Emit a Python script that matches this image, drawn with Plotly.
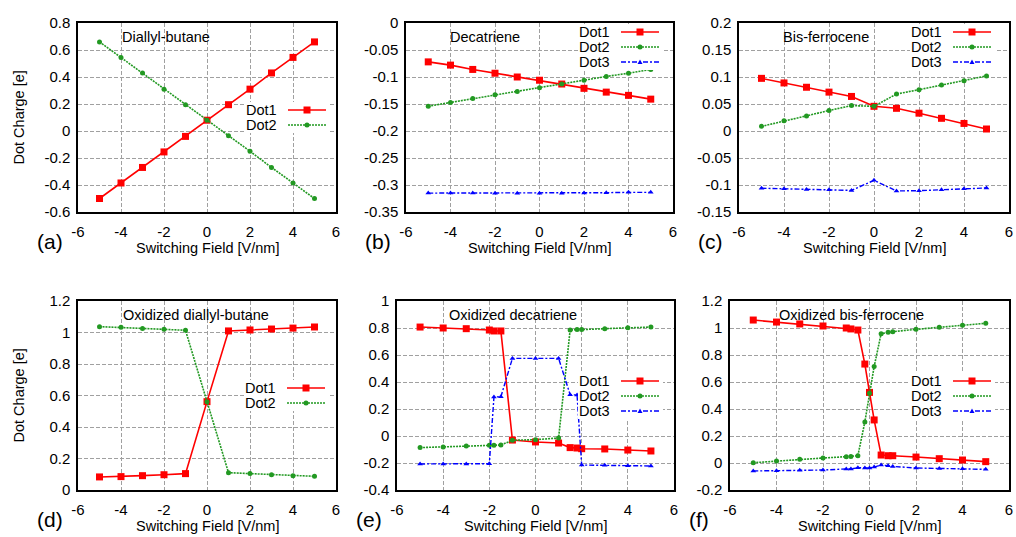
import plotly.graph_objects as go
import numpy as np

# ---------------- data ----------------
x_std = [-5, -4, -3, -2, -1, 0, 1, 2, 3, 4, 5]
x_e = [-5, -4, -3, -2, -1.8, -1.5, -1, 0, 1, 1.5, 1.8, 2, 3, 4, 5]
x_f = [-5, -4, -3, -2, -1, -0.8, -0.5, -0.2, 0, 0.2, 0.5, 0.8, 1, 2, 3, 4, 5]

a_dot1 = [-0.50, -0.385, -0.27, -0.155, -0.04, 0.08, 0.195, 0.31, 0.43, 0.545, 0.66]
a_dot2 = [0.66, 0.545, 0.43, 0.31, 0.195, 0.08, -0.035, -0.15, -0.27, -0.385, -0.50]

b_dot1 = [-0.072, -0.078, -0.086, -0.093, -0.100, -0.106, -0.113, -0.121, -0.128, -0.134, -0.141]
b_dot2 = [-0.154, -0.147, -0.140, -0.133, -0.127, -0.120, -0.113, -0.106, -0.099, -0.093, -0.086]
b_dot3 = [-0.315, -0.315, -0.315, -0.3155, -0.3155, -0.3155, -0.3152, -0.3148, -0.3142, -0.3136, -0.3136]

c_dot1 = [0.0975, 0.089, 0.081, 0.072, 0.064, 0.0457, 0.042, 0.033, 0.0235, 0.014, 0.0037]
c_dot2 = [0.0086, 0.019, 0.028, 0.038, 0.047, 0.0457, 0.0685, 0.0765, 0.085, 0.093, 0.102]
c_dot3 = [-0.106, -0.107, -0.1085, -0.109, -0.110, -0.0914, -0.111, -0.1105, -0.109, -0.107, -0.1055]

d_dot1 = [0.083, 0.085, 0.091, 0.097, 0.104, 0.561, 1.010, 1.016, 1.022, 1.028, 1.035]
d_dot2 = [1.037, 1.033, 1.026, 1.020, 1.014, 0.561, 0.110, 0.104, 0.097, 0.091, 0.087]

e_dot1 = [0.807, 0.800, 0.795, 0.785, 0.778, 0.778, -0.030, -0.044, -0.052, -0.086, -0.089, -0.094, -0.096, -0.104, -0.111]
e_dot2 = [-0.086, -0.081, -0.074, -0.069, -0.069, -0.067, -0.032, -0.027, -0.015, 0.785, 0.788, 0.788, 0.795, 0.802, 0.807]
e_dot3 = [-0.207, -0.207, -0.207, -0.205, 0.289, 0.291, 0.575, 0.575, 0.575, 0.306, 0.304, -0.215, -0.217, -0.220, -0.222]

f_dot1 = [1.059, 1.044, 1.030, 1.015, 1.000, 0.993, 0.985, 0.733, 0.523, 0.319, 0.059, 0.054, 0.054, 0.044, 0.032, 0.022, 0.010]
f_dot2 = [0.002, 0.015, 0.027, 0.037, 0.047, 0.049, 0.054, 0.304, 0.516, 0.714, 0.958, 0.968, 0.973, 0.990, 1.005, 1.020, 1.035]
f_dot3 = [-0.059, -0.057, -0.054, -0.052, -0.044, -0.044, -0.035, -0.037, -0.037, -0.030, -0.015, -0.020, -0.025, -0.037, -0.040, -0.042, -0.047]

panel_titles = ["Diallyl-butane", "Decatriene", "Bis-ferrocene",
                "Oxidized diallyl-butane", "Oxidized decatriene", "Oxidized bis-ferrocene"]
panel_letters = ["(a)", "(b)", "(c)", "(d)", "(e)", "(f)"]
series_names = ["Dot1", "Dot2", "Dot3"]
y_ranges = [(-0.6, 0.8, 0.2), (-0.35, 0.0, 0.05), (-0.15, 0.2, 0.05),
            (0.0, 1.2, 0.2), (-0.4, 1.0, 0.2), (-0.2, 1.2, 0.2)]
x_ticks = [-6, -4, -2, 0, 2, 4, 6]
x_title = "Switching Field [V/nm]"
y_title = "Dot Charge [e]"

panels = [
    (x_std, [a_dot1, a_dot2]),
    (x_std, [b_dot1, b_dot2, b_dot3]),
    (x_std, [c_dot1, c_dot2, c_dot3]),
    (x_std, [d_dot1, d_dot2]),
    (x_e, [e_dot1, e_dot2, e_dot3]),
    (x_f, [f_dot1, f_dot2, f_dot3]),
]

# ---------------- layout geometry (pixels) ----------------
W, H = 1016, 537
FONT = "Liberation Sans, Arial, Helvetica, sans-serif"
TICK_SIZE = 15
TEXT_SIZE = 14.5
KEY_SIZE = 14.5
px_x = [(78, 336), (406, 673), (739, 1009), (78, 336), (397, 674), (730, 1009)]
px_y = [(23, 212), (23, 212), (23, 212), (301, 490), (301, 490), (301, 490)]
title_dx = [42, 42, 42, 43, 50, 47]
# key: right end of sample line, y of first entry
key_pos = [(326, 110), (659, 32), (991, 32), (325, 388), (659, 381), (991, 381)]
KEY_STEP = 15
KEY_LEN = 38
KEY_GAP = 9

colors = ["#ff0000", "#229922", "#0000ff"]
dashes = ["solid", "2px,1px", "5px,2px,2px,2px"]
symbols = ["square", "circle", "triangle-up"]
msizes = [7, 5, 5]
lwidths = [1.6, 1.6, 1.4]

fig = go.Figure()
layout = dict(
    width=W, height=H,
    margin=dict(l=0, r=0, t=0, b=0),
    paper_bgcolor="white", plot_bgcolor="white",
    font=dict(family=FONT, size=TEXT_SIZE, color="black"),
    showlegend=False,
)
annotations = []
shapes = []


def px2paper(px, py):
    return px / W, 1 - py / H


for i, (xs, ys_list) in enumerate(panels):
    n = i + 1
    xa = "x" if n == 1 else f"x{n}"
    ya = "y" if n == 1 else f"y{n}"
    for k, ys in enumerate(ys_list):
        fig.add_trace(go.Scatter(
            x=xs, y=ys, name=series_names[k], mode="lines+markers",
            xaxis=xa, yaxis=ya, showlegend=False,
            line=dict(color=colors[k], width=lwidths[k], dash=dashes[k]),
            marker=dict(symbol=symbols[k], size=msizes[k], color=colors[k]),
        ))
    x0, x1 = px_x[i]
    y0, y1 = px_y[i]
    ymin, ymax, dt = y_ranges[i]
    yt = [float(v) for v in np.round(np.arange(ymin, ymax + dt / 2, dt), 4)]
    ytt = [f"{v:g}" if abs(v) > 1e-9 else "0" for v in yt]
    axis_common = dict(
        showline=True, mirror=True, linecolor="black", linewidth=1.5,
        showgrid=True, gridcolor="#a0a0a0", gridwidth=1, griddash="4px,2px",
        zeroline=False, ticks="", automargin=False,
        tickfont=dict(family=FONT, size=TICK_SIZE, color="black"),
    )
    layout["xaxis" if n == 1 else f"xaxis{n}"] = dict(
        axis_common, domain=[x0 / W, x1 / W], range=[-6, 6],
        tickvals=x_ticks, ticktext=[str(v) for v in x_ticks],
        anchor=ya, ticklabelstandoff=5,
    )
    layout["yaxis" if n == 1 else f"yaxis{n}"] = dict(
        axis_common, domain=[1 - y1 / H, 1 - y0 / H], range=[ymin, ymax],
        tickvals=yt, ticktext=ytt, anchor=xa, ticklabelstandoff=3,
    )

    # ---- gnuplot-style key (text, then sample line with marker) ----
    kr, ky = key_pos[i]
    nser = len(ys_list)
    text_right = kr - KEY_LEN - KEY_GAP
    bx0, by0 = px2paper(text_right - 34, ky - 8)
    bx1, by1 = px2paper(kr + 4, ky + (nser - 1) * KEY_STEP + 8)
    shapes.append(dict(type="rect", xref="paper", yref="paper", layer="above",
                       x0=bx0, x1=bx1, y0=by1, y1=by0,
                       fillcolor="white", line=dict(width=0)))
    for k in range(nser):
        ey = ky + k * KEY_STEP
        lx0, ly = px2paper(kr - KEY_LEN, ey)
        lx1, _ = px2paper(kr, ey)
        shapes.append(dict(type="line", xref="paper", yref="paper", layer="above",
                           x0=lx0, x1=lx1, y0=ly, y1=ly,
                           line=dict(color=colors[k], width=lwidths[k], dash=dashes[k])))
        cx, cy = px2paper(kr - KEY_LEN / 2, ey)
        mk = dict(xref="paper", yref="paper", layer="above",
                  xsizemode="pixel", ysizemode="pixel", xanchor=cx, yanchor=cy,
                  fillcolor=colors[k], line=dict(width=0))
        if symbols[k] == "square":
            mk.update(type="rect", x0=-3.5, x1=3.5, y0=-3.5, y1=3.5)
        elif symbols[k] == "circle":
            mk.update(type="circle", x0=-2.5, x1=2.5, y0=-2.5, y1=2.5)
        else:
            mk.update(type="path", path="M -2.5,-2 L 2.5,-2 L 0,2.5 Z")
        shapes.append(mk)
        tx, ty = px2paper(text_right, ey)
        annotations.append(dict(
            text=series_names[k], x=tx, y=ty, xref="paper", yref="paper",
            xanchor="right", yanchor="middle", showarrow=False,
            font=dict(family=FONT, size=KEY_SIZE, color="black")))

    # panel title inside plot
    annotations.append(dict(
        text=panel_titles[i], x=(x0 + title_dx[i]) / W, y=1 - (y0 + 14) / H,
        xref="paper", yref="paper", xanchor="left", yanchor="middle",
        showarrow=False, font=dict(family=FONT, size=TEXT_SIZE, color="black")))
    # x axis title
    annotations.append(dict(
        text=x_title, x=(x0 + x1) / 2 / W, y=1 - (y1 + 36) / H,
        xref="paper", yref="paper", xanchor="center", yanchor="middle",
        showarrow=False, font=dict(family=FONT, size=TEXT_SIZE, color="black")))
    # panel letter
    annotations.append(dict(
        text=panel_letters[i], x=(x0 - 43) / W, y=1 - (y1 + 29) / H,
        xref="paper", yref="paper", xanchor="left", yanchor="middle",
        showarrow=False, font=dict(family=FONT, size=21, color="black")))
    if i in (0, 3):
        annotations.append(dict(
            text=y_title, x=18 / W, y=1 - (y0 + y1) / 2 / H,
            xref="paper", yref="paper", xanchor="center", yanchor="middle",
            textangle=-90, showarrow=False,
            font=dict(family=FONT, size=TEXT_SIZE, color="black")))

layout["annotations"] = annotations
layout["shapes"] = shapes
fig.update_layout(**layout)
fig.write_html("out.html", config={"displayModeBar": False},
               post_script="document.body.style.margin='0';document.body.style.padding='0';")
